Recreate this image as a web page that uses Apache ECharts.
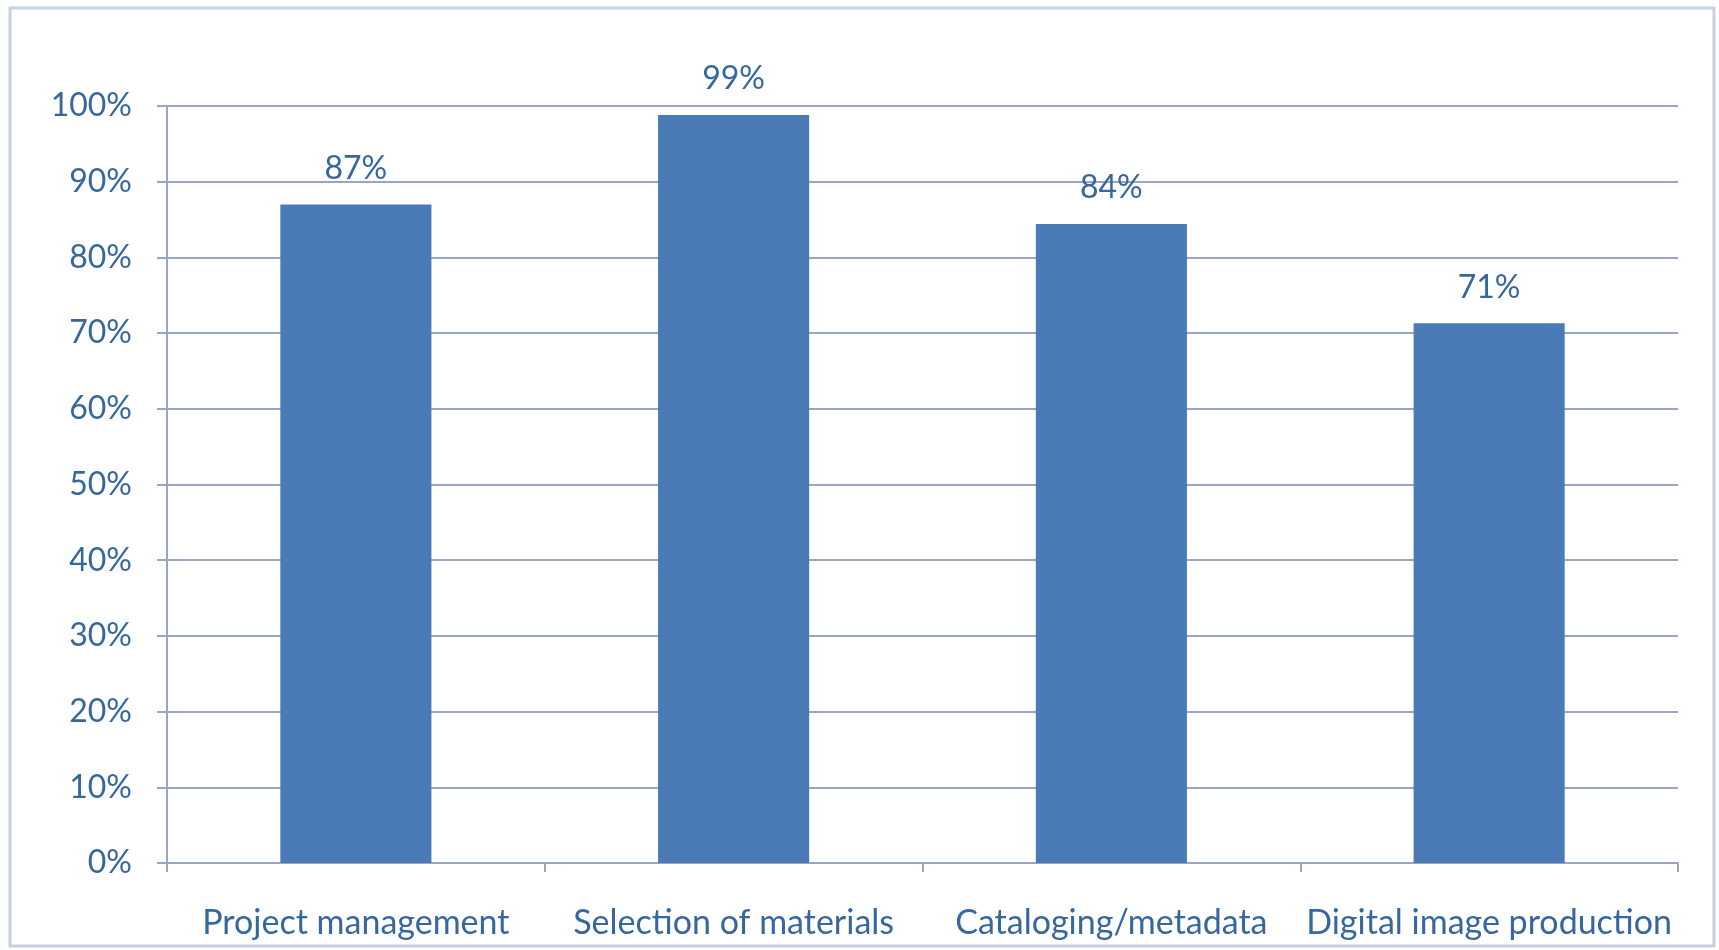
<!DOCTYPE html>
<html>
<head>
<meta charset="utf-8">
<script src="https://cdn.jsdelivr.net/npm/echarts@6/dist/echarts.min.js"></script>
<style>
html,body{margin:0;padding:0;background:#fff;}
#chart{width:1719px;height:950px;}
</style>
</head>
<body>
<div id="chart"></div>
<script>
const categories = ["Project management", "Selection of materials", "Cataloging/metadata", "Digital image production"];
const values = [0.87, 0.988, 0.844, 0.713];
const yTicks = [0, 0.1, 0.2, 0.3, 0.4, 0.5, 0.6, 0.7, 0.8, 0.9, 1.0];

const textColor = '#36679e';
const chart = echarts.init(document.getElementById('chart'));
chart.setOption({
  animation: false,
  backgroundColor: '#ffffff',
  graphic: [{
    type: 'rect',
    shape: { x: 10, y: 8, width: 1704, height: 938 },
    style: { fill: 'none', stroke: '#c6cfe2', lineWidth: 3 }
  }],
  grid: { left: 167, right: 41, top: 106, bottom: 87 },
  xAxis: {
    type: 'category',
    data: categories,
    boundaryGap: true,
    axisLine: { lineStyle: { color: '#9aa5c4', width: 2 } },
    axisTick: { show: true, length: 9, lineStyle: { color: '#9aa5c4', width: 2 } },
    axisLabel: { interval: 0, color: textColor, fontFamily: 'Lato', fontSize: 34, margin: 43 }
  },
  yAxis: {
    type: 'value',
    min: yTicks[0],
    max: yTicks[yTicks.length - 1],
    interval: 0.1,
    axisLine: { show: true, lineStyle: { color: '#9aa5c4', width: 2 } },
    axisTick: { show: true, length: 10, lineStyle: { color: '#9aa5c4', width: 2 } },
    splitLine: { lineStyle: { color: '#9aa5c4', width: 2 } },
    axisLabel: {
      color: textColor, fontFamily: 'Lato', fontSize: 32, margin: 35,
      formatter: v => Math.round(v * 100) + '%'
    }
  },
  series: [{
    type: 'bar',
    data: values,
    barWidth: '40%',
    itemStyle: { color: '#4a7bb7' },
    label: {
      show: true, position: 'top', distance: 20,
      color: textColor, fontFamily: 'Lato', fontSize: 32,
      formatter: p => Math.round(p.value * 100) + '%'
    }
  }]
});
</script>
</body>
</html>
